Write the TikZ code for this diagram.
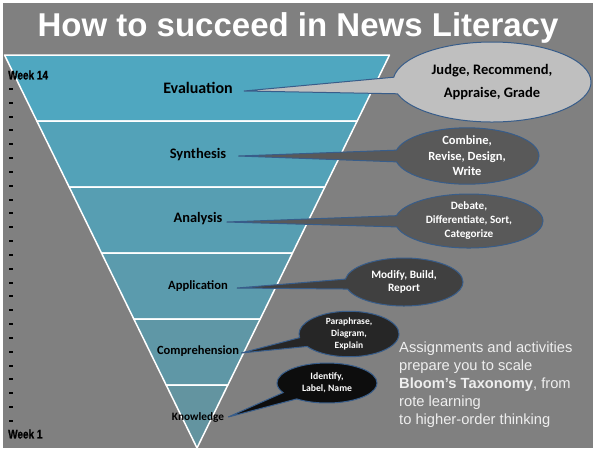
\documentclass[tikz,border=0pt]{standalone}
\usepackage{fontspec}
\setmainfont{Carlito}
\newfontfamily\arialfont{Liberation Sans}
\newfontfamily\weekfont[FakeBold=1.2]{Liberation Sans Bold}
\usetikzlibrary{calc,shapes.callouts}
\definecolor{slide}{RGB}{128,128,128}
\definecolor{bandA}{RGB}{79,167,192}
\definecolor{bandB}{RGB}{83,162,184}
\definecolor{bandC}{RGB}{87,158,178}
\definecolor{bandD}{RGB}{91,155,173}
\definecolor{bandE}{RGB}{95,151,166}
\definecolor{bandF}{RGB}{99,148,160}
\definecolor{rim}{RGB}{56,93,138}
\definecolor{callA}{RGB}{191,191,191}
\definecolor{callB}{RGB}{89,89,89}
\definecolor{callC}{RGB}{64,64,64}
\definecolor{callD}{RGB}{38,38,38}
\definecolor{callE}{RGB}{13,13,13}
\definecolor{note}{RGB}{238,238,238}

\begin{document}
\begin{tikzpicture}[x=1pt, y=-1pt,
    band/.style={fill=#1, draw=white, line width=1.5pt, line join=round},
    stage/.style={font=\bfseries\fontsize{#1}{#1}\selectfont, inner sep=1pt},
    bubble/.style={ellipse callout, draw=rim, line width=1pt, inner sep=0pt, align=center, callout pointer arc=24},
    week/.style={anchor=west, inner sep=0pt, font=\weekfont\fontsize{12.5}{12.5}\selectfont}]
    \useasboundingbox (0,0) rectangle (593,448);
    \fill[white] (0,0) rectangle (593,448);
    \fill[slide] (3,3) rectangle (593,448);
    \node[text=white, anchor=base, inner sep=0pt, font=\arialfont\bfseries\fontsize{33}{33}\selectfont] (title) at (298,36) {How to succeed in News Literacy};

    \coordinate (tl) at (4.5,55);
    \coordinate (tr) at (389.5,55);
    \coordinate (apex) at (197,448);
    \foreach \a/\b/\c in {0/.168/bandA, .168/.336/bandB, .336/.504/bandC, .504/.672/bandD, .672/.84/bandE, .84/1/bandF}
        \filldraw[band=\c] ($(tl)!\a!(apex)$) -- ($(tr)!\a!(apex)$) -- ($(tr)!\b!(apex)$) -- ($(tl)!\b!(apex)$) -- cycle;

    \node[stage=16] (evaluation) at (198,88) {Evaluation};
    \node[stage=14.5] (synthesis) at (198,155) {Synthesis};
    \node[stage=14.4] (analysis) at (198,219) {Analysis};
    \node[stage=12.6] (application) at (198,286) {Application};
    \node[stage=12.5] (comprehension) at (198,351) {Comprehension};
    \node[stage=11.3] (knowledge) at (198,417) {Knowledge};

    \node[bubble, fill=callA, minimum width=198pt, minimum height=80pt, font=\bfseries\fontsize{14.5}{23}\selectfont,
        callout absolute pointer={([shift={(10,3)}]evaluation.east)}] (judge) at (492,82) {Judge, Recommend,\\Appraise, Grade};
    \node[bubble, fill=callB, text=white, minimum width=144pt, minimum height=56pt, font=\bfseries\fontsize{12.5}{15.5}\selectfont,
        callout absolute pointer={([shift={(11,1)}]synthesis.east)}] (combine) at (467,156) {Combine,\\Revise, Design,\\Write};
    \node[bubble, fill=callB, text=white, minimum width=148pt, minimum height=54pt, font=\bfseries\fontsize{11.2}{14}\selectfont,
        callout absolute pointer={([shift={(3,3)}]analysis.east)}] (debate) at (469,221) {Debate,\\Differentiate, Sort,\\Categorize};
    \node[bubble, fill=callC, text=white, minimum width=118pt, minimum height=48pt, font=\bfseries\fontsize{11.3}{13.5}\selectfont,
        callout absolute pointer={([shift={(8,2)}]application.east)}] (modify) at (404,282) {Modify, Build,\\Report};
    \node[bubble, fill=callD, text=white, minimum width=100pt, minimum height=38pt, font=\bfseries\fontsize{9.5}{12}\selectfont,
        callout absolute pointer={([shift={(1,2)}]comprehension.east)}] (paraphrase) at (349,334) {Paraphrase,\\Diagram,\\Explain};
    \node[bubble, fill=callE, text=white, minimum width=100pt, minimum height=40pt, font=\bfseries\fontsize{9.7}{12}\selectfont,
        callout absolute pointer={([shift={(3,0)}]knowledge.east)}] (identify) at (327,383) {Identify,\\Label, Name};

    \foreach \k in {0,...,24}
        \draw[line width=2pt] (9,{round(89+13.83*\k)}) -- (13,{round(89+13.83*\k)});
    \node[week] (top) at (8,75) {\scalebox{0.8}[1]{Week 14}};
    \node[week] (bottom) at (8,434) {\scalebox{0.8}[1]{Week 1}};

    \node[anchor=north west, align=left, inner sep=0pt, text=note, font=\arialfont\fontsize{14.7}{18}\selectfont] (blurb) at (399,342)
        {Assignments and activities\\prepare you to scale\\\textbf{Bloom’s Taxonomy}, from\\rote learning\\to higher-order thinking};
\end{tikzpicture}
\end{document}
